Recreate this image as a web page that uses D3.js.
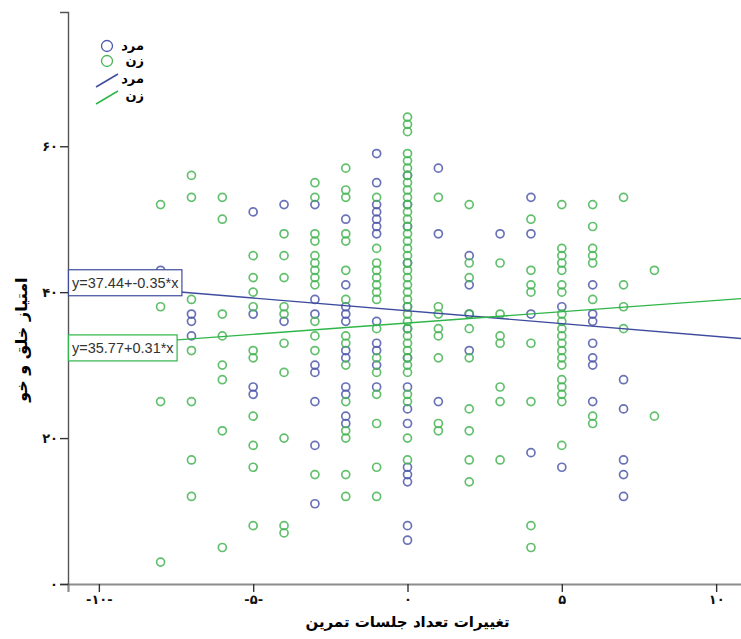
<!DOCTYPE html>
<html>
<head>
<meta charset="utf-8">
<script src="https://cdn.jsdelivr.net/npm/d3@7"></script>
<style>
  body { margin: 0; background: #fff; }
  svg { display: block; }
</style>
</head>
<body>
<svg id="chart" width="741" height="639"></svg>
<script>
// male (مرد) points: [change in sessions, mood score]
const malePoints = [
  [-8, 43], [-8, 41],
  [-7, 37], [-7, 36], [-7, 34],
  [-5, 51], [-5, 37], [-5, 27], [-5, 26],
  [-4, 52], [-4, 36],
  [-3, 52], [-3, 39], [-3, 37], [-3, 30], [-3, 29], [-3, 25], [-3, 19], [-3, 11],
  [-2, 50], [-2, 41], [-2, 38], [-2, 37], [-2, 36], [-2, 32], [-2, 31], [-2, 27], [-2, 26], [-2, 23], [-2, 22],
  [-1, 59], [-1, 55], [-1, 52], [-1, 51], [-1, 50], [-1, 49], [-1, 48], [-1, 36], [-1, 33], [-1, 32], [-1, 30], [-1, 27],
  [0, 56], [0, 52], [0, 49], [0, 44], [0, 38], [0, 35], [0, 31], [0, 27], [0, 24], [0, 22], [0, 16], [0, 15], [0, 14], [0, 8], [0, 6],
  [1, 57], [1, 48], [1, 25],
  [2, 45], [2, 41], [2, 37], [2, 32],
  [3, 48],
  [4, 53], [4, 48], [4, 37], [4, 18],
  [5, 38], [5, 16],
  [6, 41], [6, 37], [6, 36], [6, 33], [6, 31], [6, 30], [6, 25],
  [7, 28], [7, 24], [7, 17], [7, 15], [7, 12]
];

// female (زن) points
const femalePoints = [
  [-8, 52], [-8, 38], [-8, 25], [-8, 3],
  [-7, 56], [-7, 53], [-7, 39], [-7, 32], [-7, 25], [-7, 17], [-7, 12],
  [-6, 53], [-6, 50], [-6, 37], [-6, 34], [-6, 30], [-6, 28], [-6, 21], [-6, 5],
  [-5, 45], [-5, 42], [-5, 40], [-5, 38], [-5, 32], [-5, 31], [-5, 23], [-5, 19], [-5, 16], [-5, 8],
  [-4, 48], [-4, 45], [-4, 42], [-4, 38], [-4, 37], [-4, 33], [-4, 29], [-4, 20], [-4, 8], [-4, 7],
  [-3, 55], [-3, 53], [-3, 48], [-3, 47], [-3, 45], [-3, 44], [-3, 43], [-3, 42], [-3, 41], [-3, 36], [-3, 34], [-3, 32], [-3, 15],
  [-2, 57], [-2, 54], [-2, 53], [-2, 48], [-2, 47], [-2, 43], [-2, 39], [-2, 34], [-2, 33], [-2, 30], [-2, 25], [-2, 21], [-2, 20], [-2, 15], [-2, 12],
  [-1, 53], [-1, 46], [-1, 44], [-1, 43], [-1, 42], [-1, 41], [-1, 40], [-1, 39], [-1, 35], [-1, 31], [-1, 29], [-1, 26], [-1, 22], [-1, 16], [-1, 12],
  [0, 64], [0, 63], [0, 62], [0, 59], [0, 58], [0, 57], [0, 56], [0, 55], [0, 54], [0, 53], [0, 52], [0, 51], [0, 50],
  [0, 49], [0, 48], [0, 47], [0, 46], [0, 45], [0, 44], [0, 43], [0, 42], [0, 41], [0, 40], [0, 39], [0, 38], [0, 37],
  [0, 36], [0, 35], [0, 34], [0, 33], [0, 32], [0, 31], [0, 30], [0, 29], [0, 26], [0, 25], [0, 20], [0, 17],
  [1, 53], [1, 38], [1, 37], [1, 35], [1, 34], [1, 31], [1, 22], [1, 21],
  [2, 52], [2, 44], [2, 42], [2, 37], [2, 35], [2, 31], [2, 24], [2, 21], [2, 17], [2, 14],
  [3, 44], [3, 37], [3, 34], [3, 33], [3, 27], [3, 25], [3, 17],
  [4, 50], [4, 43], [4, 41], [4, 40], [4, 33], [4, 25], [4, 8], [4, 5],
  [5, 52], [5, 46], [5, 45], [5, 44], [5, 43], [5, 41], [5, 40], [5, 37], [5, 36], [5, 35], [5, 34],
  [5, 33], [5, 32], [5, 31], [5, 30], [5, 28], [5, 27], [5, 26], [5, 25], [5, 19],
  [6, 52], [6, 49], [6, 46], [6, 45], [6, 44], [6, 39], [6, 23], [6, 22],
  [7, 53], [7, 41], [7, 38], [7, 35],
  [8, 43], [8, 23]
];

// fit lines (male, female)
const groupNames = ["مرد", "زن"];
const fitIntercepts = [37.44, 35.77];
const fitSlopes = [-0.35, 0.31];
const fitLabels = ["y=37.44+-0.35*x", "y=35.77+0.31*x"];

const xTicks = [-10, -5, 0, 5, 10];
const xTickLabels = ["-۱۰-", "-۵-", "۰", "۵", "۱۰"];
const yTicks = [0, 20, 40, 60];
const yTickLabels = ["۰", "۲۰", "۴۰", "۶۰"];

const xTitle = "تغییرات تعداد جلسات تمرین";
const yTitle = "امتیاز خلق و خو";

const colors = ["#4f58aa", "#47b553"];
const lineColors = ["#3e4c9e", "#2fb548"];

const svg = d3.select("#chart");
const faFont = "'DejaVu Sans', sans-serif";

const x = d3.scaleLinear().domain([-11, 11]).range([68, 747]);
const y = d3.scaleLinear().domain([0, 78.4]).range([584, 12]);

// axes
const xAxis = svg.append("g")
    .attr("transform", `translate(0,${y(0)})`)
    .call(d3.axisBottom(x).tickValues(xTicks).tickSize(8).tickPadding(3)
        .tickFormat((d, i) => xTickLabels[i]));
xAxis.select(".domain").attr("stroke", "#8c8c8c").attr("stroke-width", 2.2);
xAxis.selectAll(".tick line").attr("stroke", "#333").attr("stroke-width", 1.4);
xAxis.selectAll("text")
    .style("font-family", faFont)
    .style("font-weight", "bold")
    .style("font-size", "13px")
    .attr("fill", "#111");

const yAxis = svg.append("g")
    .attr("transform", `translate(${x(-11)},0)`)
    .call(d3.axisLeft(y).tickValues(yTicks).tickSize(8).tickPadding(2)
        .tickFormat((d, i) => yTickLabels[i]));
yAxis.select(".domain").attr("stroke", "#555").attr("stroke-width", 1.4);
yAxis.selectAll(".tick line").attr("stroke", "#333").attr("stroke-width", 1.4);
yAxis.selectAll("text")
    .style("font-family", faFont)
    .style("font-weight", "bold")
    .style("font-size", "13px")
    .attr("fill", "#111");

// axis titles
svg.append("text")
    .attr("x", x(0))
    .attr("y", 627)
    .attr("text-anchor", "middle")
    .style("font-family", faFont)
    .style("font-weight", "bold")
    .style("font-size", "15px")
    .text(xTitle);

svg.append("text")
    .attr("transform", `translate(27,${y(33.5)}) rotate(-90)`)
    .attr("text-anchor", "middle")
    .style("font-family", faFont)
    .style("font-weight", "bold")
    .style("font-size", "16px")
    .text(yTitle);

// points
const plot = svg.append("g");
[malePoints, femalePoints].forEach((pts, gi) => {
    plot.append("g").selectAll("circle")
        .data(pts)
        .join("circle")
        .attr("cx", d => x(d[0]))
        .attr("cy", d => y(d[1]))
        .attr("r", 4)
        .attr("fill", "none")
        .attr("stroke", colors[gi])
        .attr("stroke-opacity", 0.85)
        .attr("stroke-width", 1.7);
});

// fit lines
const line = d3.line().x(d => x(d[0])).y(d => y(d[1]));
fitIntercepts.forEach((b, i) => {
    const ends = x.domain().map(v => [v, b + fitSlopes[i] * v]);
    svg.append("path")
        .attr("d", line(ends))
        .attr("fill", "none")
        .attr("stroke", lineColors[i])
        .attr("stroke-width", 1.4);
});

// equation labels at left end of each line
fitIntercepts.forEach((b, i) => {
    const cy = y(b + fitSlopes[i] * x.domain()[0]);
    const g = svg.append("g");
    const rect = g.append("rect");
    const t = g.append("text")
        .attr("x", x(-11) + 4)
        .attr("y", cy + 5)
        .style("font-family", "'Liberation Sans', Arial, sans-serif")
        .style("font-size", "14.5px")
        .attr("fill", "#333")
        .text(fitLabels[i]);
    const w = t.node().getComputedTextLength();
    rect.attr("x", x(-11) + 0.5)
        .attr("y", cy - 13)
        .attr("width", w + 7)
        .attr("height", 26)
        .attr("fill", "#fff")
        .attr("stroke", lineColors[i])
        .attr("stroke-width", 1.2);
});

// legend
const legend = svg.append("g");
const rowY = [46, 61, 79, 96];
groupNames.forEach((name, i) => {
    legend.append("circle")
        .attr("cx", 107).attr("cy", rowY[i])
        .attr("r", 5.5)
        .attr("fill", "none")
        .attr("stroke", colors[i])
        .attr("stroke-width", 1.3);
    legend.append("line")
        .attr("x1", 96).attr("y1", rowY[i + 2] + 8)
        .attr("x2", 118).attr("y2", rowY[i + 2] - 5)
        .attr("stroke", lineColors[i])
        .attr("stroke-width", 1.5);
});
[0, 1, 0, 1].forEach((gi, r) => {
    legend.append("text")
        .attr("x", 144)
        .attr("y", rowY[r] + 4)
        .attr("text-anchor", "end")
        .style("font-family", faFont)
        .style("font-weight", "bold")
        .style("font-size", "13px")
        .text(groupNames[gi]);
});
</script>
</body>
</html>
